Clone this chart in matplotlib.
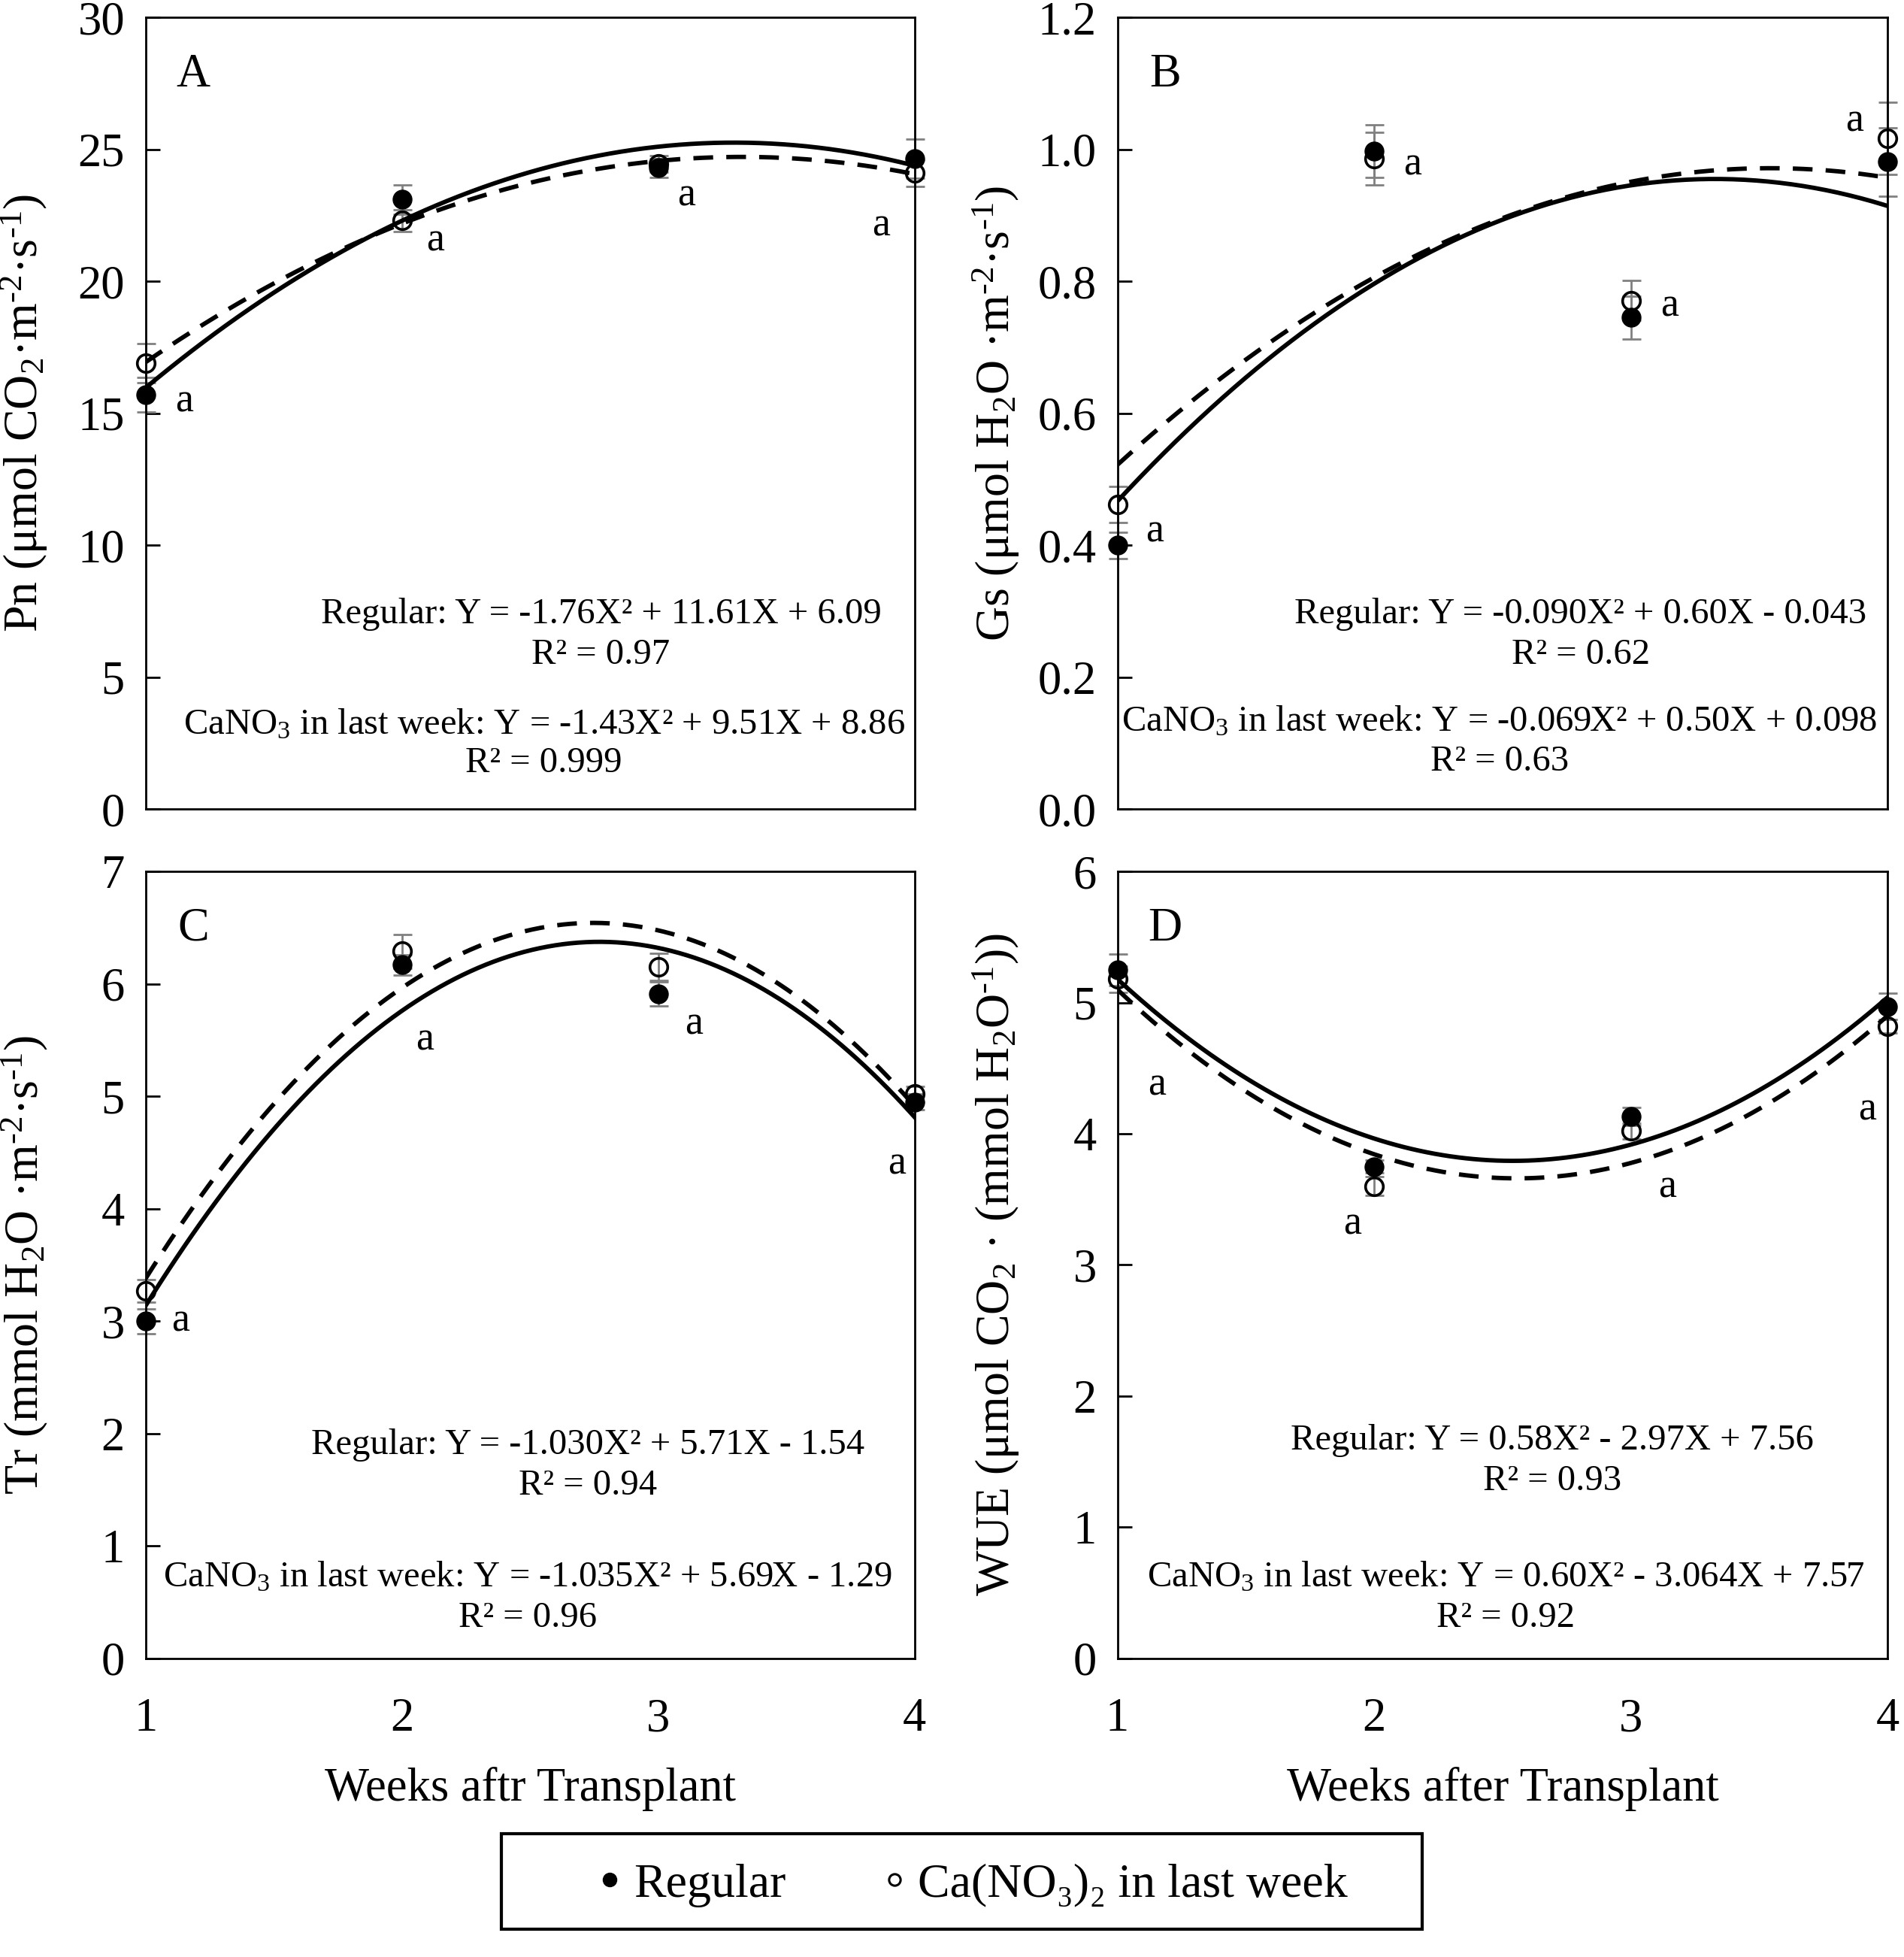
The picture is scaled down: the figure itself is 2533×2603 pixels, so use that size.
import numpy as np
import matplotlib
matplotlib.use('Agg')
import matplotlib.pyplot as plt
import matplotlib.ticker as ptick
from matplotlib.lines import Line2D
from matplotlib.patches import Rectangle

plt.rcParams['font.family'] = ['Liberation Serif', 'DejaVu Serif']
plt.rcParams['mathtext.fontset'] = 'custom'
plt.rcParams['mathtext.rm'] = 'Liberation Serif'
plt.rcParams['mathtext.it'] = 'Liberation Serif:italic'

# weeks after transplant
weeks = [1, 2, 3, 4]

# Pn
pn_regular = [15.7, 23.1, 24.3, 24.65]
pn_regular_err = [0.65, 0.55, 0.35, 0.75]
pn_cano3 = [16.9, 22.3, 24.45, 24.1]
pn_cano3_err = [0.75, 0.4, 0.3, 0.5]

# Gs
gs_regular = [0.400, 0.997, 0.745, 0.981]
gs_regular_err = [0.02, 0.04, 0.032, 0.052]
gs_cano3 = [0.462, 0.986, 0.771, 1.017]
gs_cano3_err = [0.027, 0.04, 0.03, 0.055]

# Tr
tr_regular = [3.00, 6.17, 5.91, 4.95]
tr_regular_err = [0.11, 0.09, 0.11, 0.07]
tr_cano3 = [3.27, 6.29, 6.15, 5.02]
tr_cano3_err = [0.10, 0.15, 0.12, 0.07]

# WUE
wue_regular = [5.25, 3.75, 4.13, 4.97]
wue_regular_err = [0.12, 0.05, 0.07, 0.10]
wue_cano3 = [5.18, 3.60, 4.02, 4.82]
wue_cano3_err = [0.10, 0.07, 0.06, 0.05]

ylabels = [
	'Pn (μmol CO$_2$·m$^{\\text{-2}}$·s$^{\\text{-1}}$)',
	'Gs (μmol H$_2$O ·m$^{\\text{-2}}$·s$^{\\text{-1}}$)',
	'Tr (mmol H$_2$O ·m$^{\\text{-2}}$·s$^{\\text{-1}}$)',
	'WUE (μmol CO$_2$ · (mmol H$_2$O$^{\\text{-1}}$))',
]
xlabels = ['', '', 'Weeks aftr Transplant', 'Weeks after Transplant']
letters = ['A', 'B', 'C', 'D']
ylims = [(0, 30), (0, 1.2), (0, 7), (0, 6)]
yticks = [np.arange(0, 31, 5), np.arange(0, 1.21, 0.2), np.arange(0, 8, 1), np.arange(0, 7, 1)]

eq_regular = [
	'Regular: Y = -1.76X² + 11.61X + 6.09',
	'Regular: Y = -0.090X² + 0.60X - 0.043',
	'Regular: Y = -1.030X² + 5.71X - 1.54',
	'Regular: Y = 0.58X² - 2.97X + 7.56',
]
r2_regular = ['R² = 0.97', 'R² = 0.62', 'R² = 0.94', 'R² = 0.93']
eq_cano3 = [
	'CaNO$_3$ in last week: Y = -1.43X² + 9.51X + 8.86',
	'CaNO$_3$ in last week: Y = -0.069X² + 0.50X + 0.098',
	'CaNO$_3$ in last week: Y = -1.035X² + 5.69X - 1.29',
	'CaNO$_3$ in last week: Y = 0.60X² - 3.064X + 7.57',
]
r2_cano3 = ['R² = 0.999', 'R² = 0.63', 'R² = 0.96', 'R² = 0.92']

# significance letters (x, y) per panel
sig_pos = [
	[(1.15, 15.45), (2.13, 21.55), (3.11, 23.25), (3.87, 22.1)],
	[(1.145, 0.42), (2.15, 0.977), (3.15, 0.762), (3.87, 1.043)],
	[(1.135, 3.0), (2.09, 5.5), (3.14, 5.64), (3.93, 4.4)],
	[(1.155, 4.37), (1.915, 3.31), (3.14, 3.59), (3.92, 4.18)],
]

panels = [
	(pn_regular, pn_regular_err, pn_cano3, pn_cano3_err),
	(gs_regular, gs_regular_err, gs_cano3, gs_cano3_err),
	(tr_regular, tr_regular_err, tr_cano3, tr_cano3_err),
	(wue_regular, wue_regular_err, wue_cano3, wue_cano3_err),
]

# text positions (axes fraction) for the equations
eq_pos = [
	(0.592, 0.246, 0.195, 0.518, 0.107, 0.058),
	(0.601, 0.246, 0.195, 0.496, 0.110, 0.060),
	(0.575, 0.271, 0.219, 0.497, 0.103, 0.051),
	(0.564, 0.277, 0.225, 0.504, 0.103, 0.051),
]

fig = plt.figure(figsize=(25.33, 26.03), dpi=100)
rects = [
	[0.0765, 0.5865, 0.4039, 0.4046],
	[0.5869, 0.5865, 0.4046, 0.4046],
	[0.0765, 0.1527, 0.4039, 0.4020],
	[0.5869, 0.1527, 0.4046, 0.4020],
]

xs = np.linspace(1, 4, 200)
for i in range(4):
	ax = fig.add_axes(rects[i])
	reg, reg_err, ca, ca_err = panels[i]
	ax.errorbar(weeks, reg, yerr=reg_err, fmt='none', ecolor='#808080', elinewidth=2, capsize=9, capthick=2, zorder=2, clip_on=False)
	ax.errorbar(weeks, ca, yerr=ca_err, fmt='none', ecolor='#808080', elinewidth=2, capsize=9, capthick=2, zorder=2, clip_on=False)
	ax.plot(weeks, ca, ls='none', marker='o', ms=17, mfc='none', mec='k', mew=2.6, zorder=3, clip_on=False)
	ax.plot(weeks, reg, ls='none', marker='o', ms=18, mfc='k', mec='k', zorder=3, clip_on=False)
	# 2nd order trendlines
	ax.plot(xs, np.polyval(np.polyfit(weeks, reg, 2), xs), color='k', lw=4.2, zorder=4)
	ax.plot(xs, np.polyval(np.polyfit(weeks, ca, 2), xs), color='k', lw=4.2, dashes=(4.5, 3), zorder=4)

	for (sx, sy) in sig_pos[i]:
		ax.text(sx, sy, 'a', fontsize=39, ha='center', va='center')
	ax.text(0.062, 0.927, letters[i], transform=ax.transAxes, fontsize=45, ha='center', va='center')

	px, y1, y2, px2, y3, y4 = eq_pos[i]
	ax.text(px, y1, eq_regular[i], transform=ax.transAxes, fontsize=35, ha='center', va='center')
	ax.text(px, y2, r2_regular[i], transform=ax.transAxes, fontsize=35, ha='center', va='center')
	ax.text(px2, y3, eq_cano3[i], transform=ax.transAxes, fontsize=35, ha='center', va='center')
	ax.text(px2, y4, r2_cano3[i], transform=ax.transAxes, fontsize=35, ha='center', va='center')

	ax.set_xlim(1, 4)
	ax.set_ylim(*ylims[i])
	ax.set_xticks(weeks)
	ax.set_yticks(yticks[i])
	if i == 1:
		ax.yaxis.set_major_formatter(ptick.FormatStrFormatter('%.1f'))
	ax.tick_params(axis='y', direction='in', length=14, width=2, labelsize=45, pad=20)
	ax.tick_params(axis='x', length=0, labelsize=45, pad=38)
	if i < 2:
		ax.tick_params(axis='x', labelbottom=False)
	for sp in ax.spines.values():
		sp.set_linewidth(2)
	ax.set_ylabel(ylabels[i], fontsize=46)
	ax.yaxis.set_label_coords(-0.125, 0.5)
	if xlabels[i]:
		ax.set_xlabel(xlabels[i], fontsize=45, labelpad=24)

# legend
fig.add_artist(Rectangle((0.2633, 0.0141), 0.4836, 0.0488, transform=fig.transFigure,
						 fill=False, edgecolor='k', linewidth=3))
handles = [
	Line2D([], [], ls='none', marker='o', ms=13, mfc='k', mec='k'),
	Line2D([], [], ls='none', marker='o', ms=11, mfc='none', mec='k', mew=2.2),
]
fig.legend(handles, ['Regular', 'Ca(NO₃)₂ in last week'], loc='center', bbox_to_anchor=(0.511, 0.0367),
		   ncol=2, frameon=False, fontsize=46, handlelength=0.5, handletextpad=0.25, columnspacing=2.0)

fig.savefig('out.png', dpi=100)
